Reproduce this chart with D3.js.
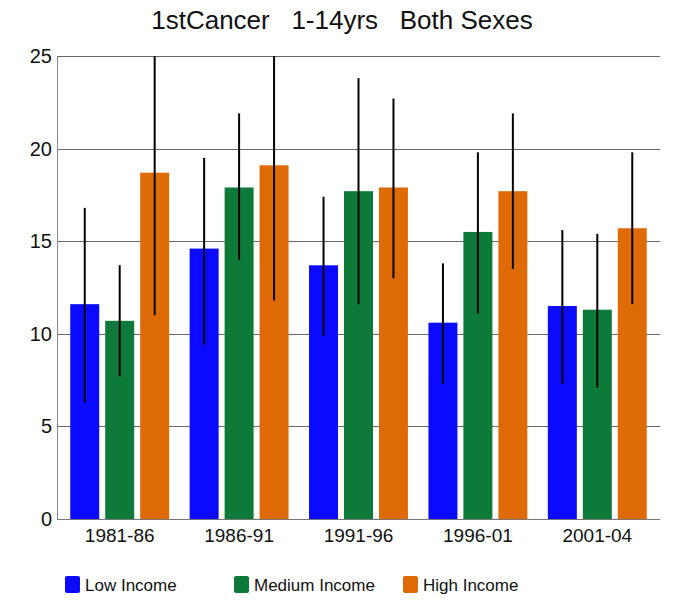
<!DOCTYPE html>
<html>
<head>
<meta charset="utf-8">
<script src="https://cdn.jsdelivr.net/npm/d3@7"></script>
<style>
  html, body { margin: 0; padding: 0; background: #fff; }
  svg { display: block; font-family: "Liberation Sans", Arial, sans-serif; }
</style>
</head>
<body>
<svg id="chart" width="683" height="607"></svg>
<script>
// Periods on the x axis
const periods = ["1981-86", "1986-91", "1991-96", "1996-01", "2001-04"];
// Income groups (series)
const seriesNames = ["Low Income", "Medium Income", "High Income"];
const seriesColors = ["#0a0aff", "#0d7a3a", "#de6a08"];

// Rates per series, one value per period
const lowIncome    = [11.6, 14.6, 13.7, 10.6, 11.5];
const mediumIncome = [10.7, 17.9, 17.7, 15.5, 11.3];
const highIncome   = [18.7, 19.1, 17.9, 17.7, 15.7];

// Confidence interval bounds (lower / upper)
const lowIncomeLo    = [6.3, 9.4, 9.9, 7.3, 7.3];
const lowIncomeHi    = [16.8, 19.5, 17.4, 13.8, 15.6];
const mediumIncomeLo = [7.7, 14.0, 11.6, 11.1, 7.1];
const mediumIncomeHi = [13.7, 21.9, 23.8, 19.8, 15.4];
const highIncomeLo   = [11.0, 11.8, 13.0, 13.5, 11.6];
const highIncomeHi   = [25, 25, 22.7, 21.9, 19.8];

const yTicks = [0, 5, 10, 15, 20, 25];
const titleText = "1stCancer   1-14yrs   Both Sexes";

const values = [lowIncome, mediumIncome, highIncome];
const lows = [lowIncomeLo, mediumIncomeLo, highIncomeLo];
const highs = [lowIncomeHi, mediumIncomeHi, highIncomeHi];

const rows = [];
periods.forEach((p, i) => {
  seriesNames.forEach((s, j) => {
    rows.push({ period: p, series: s, idx: j, value: values[j][i], lo: lows[j][i], hi: highs[j][i] });
  });
});

const svg = d3.select("#chart");
const plot = { left: 57, right: 660, top: 56, bottom: 519 };

const y = d3.scaleLinear().domain([0, 25]).range([plot.bottom, plot.top]);
const x0 = d3.scaleBand().domain(periods).range([60, 657]).padding(0);
const x1 = d3.scaleBand().domain(seriesNames).range([0, x0.bandwidth()])
  .paddingInner(0.171).paddingOuter(0.293);

// Title
svg.append("text")
  .attr("x", 342).attr("y", 29)
  .attr("text-anchor", "middle")
  .style("white-space", "pre")
  .attr("xml:space", "preserve")
  .attr("font-size", 26)
  .attr("fill", "#111")
  .text(titleText);

// Horizontal gridlines
svg.append("g")
  .selectAll("line")
  .data(yTicks.filter(t => t > 0))
  .join("line")
  .attr("x1", plot.left).attr("x2", plot.right)
  .attr("y1", d => Math.round(y(d)) + 0.5).attr("y2", d => Math.round(y(d)) + 0.5)
  .attr("stroke", "#6a6a6a").attr("stroke-width", 1);

// Y axis
const yAxis = svg.append("g")
  .attr("transform", `translate(${plot.left},0)`)
  .call(d3.axisLeft(y).tickValues(yTicks).tickSize(0).tickPadding(5));
yAxis.select(".domain").attr("stroke", "#888");
yAxis.selectAll("text").attr("font-size", 20).attr("fill", "#111")
  .attr("font-family", "'Liberation Sans', Arial, sans-serif");

// Bars
svg.append("g")
  .selectAll("rect")
  .data(rows)
  .join("rect")
  .attr("x", d => x0(d.period) + x1(d.series))
  .attr("width", x1.bandwidth())
  .attr("y", d => y(d.value))
  .attr("height", d => y(0) - y(d.value))
  .attr("fill", d => seriesColors[d.idx]);

// Error bars
svg.append("g")
  .selectAll("line")
  .data(rows)
  .join("line")
  .attr("x1", d => x0(d.period) + x1(d.series) + x1.bandwidth() / 2)
  .attr("x2", d => x0(d.period) + x1(d.series) + x1.bandwidth() / 2)
  .attr("y1", d => y(d.lo))
  .attr("y2", d => y(d.hi))
  .attr("stroke", "#000").attr("stroke-width", 2);

// X axis
const xAxis = svg.append("g")
  .attr("transform", `translate(0,${plot.bottom})`)
  .call(d3.axisBottom(x0).tickSize(0).tickPadding(10));
xAxis.select(".domain").attr("stroke", "#777").attr("d", `M${plot.left},0.5H${plot.right}`);
xAxis.selectAll("text").attr("font-size", 19).attr("fill", "#111")
  .attr("font-family", "'Liberation Sans', Arial, sans-serif");

// Legend
const legendX = [65, 234, 403];
const legend = svg.append("g");
seriesNames.forEach((s, j) => {
  legend.append("rect")
    .attr("x", legendX[j]).attr("y", 576)
    .attr("width", 15).attr("height", 17).attr("rx", 2)
    .attr("fill", seriesColors[j]);
  legend.append("text")
    .attr("x", legendX[j] + 20).attr("y", 591)
    .attr("font-size", 17).attr("fill", "#111")
    .text(s);
});
</script>
</body>
</html>
